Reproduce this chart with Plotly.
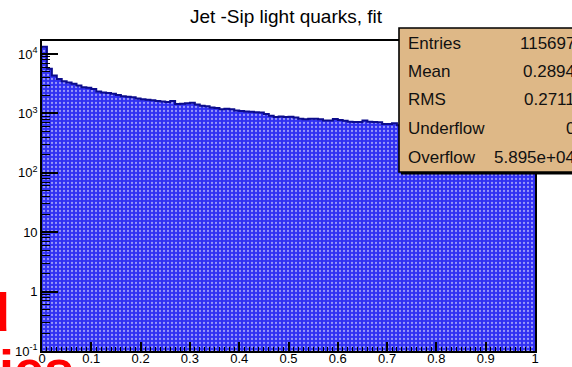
import numpy as np
import plotly.graph_objects as go

# ---- data ----
bin_lo = 0.0
bin_hi = 1.0
n_bins = 100
counts = [
    13200, 5620, 4365, 3802, 3467, 3311, 3162, 2951, 2754, 2692,
    2570, 2344, 2239, 2210, 2138, 2042, 1950, 1905, 1862, 1778,
    1738, 1698, 1660, 1622, 1585, 1549, 1622, 1445, 1460, 1479,
    1514, 1413, 1349, 1318, 1259, 1230, 1175, 1202, 1170, 1122,
    1096, 1072, 1065, 1047, 1040, 977, 912, 871, 891, 868,
    881, 851, 813, 794, 810, 813, 798, 759, 762, 804,
    776, 755, 724, 716, 718, 759, 724, 714, 712, 661,
    665, 684, 631, 625, 620, 612, 618, 605, 598, 600,
    590, 585, 588, 578, 570, 572, 565, 560, 555, 558,
    550, 545, 540, 542, 535, 530, 528, 522, 518, 515,
]
title = "Jet -Sip light quarks, fit"
stat_names = ["Entries", "Mean", "RMS", "Underflow", "Overflow"]
stat_values = ["115697", "0.2894", "0.2711", "0", "5.895e+04"]
x_tickvals = [0, 0.1, 0.2, 0.3, 0.4, 0.5, 0.6, 0.7, 0.8, 0.9, 1]
x_ticktext = ["0", "0.1", "0.2", "0.3", "0.4", "0.5", "0.6", "0.7", "0.8", "0.9", "1"]
y_tickvals = [0.1, 1, 10, 100, 1000, 10000]
y_ticktext = ["10<sup>-1</sup>", "1", "10", "10<sup>2</sup>", "10<sup>3</sup>", "10<sup>4</sup>"]

# ---- derived ----
width = (bin_hi - bin_lo) / n_bins
edges = bin_lo + width * np.arange(n_bins + 1)
centers = edges[:-1] + width / 2
minor_y = [m * 10.0 ** e for e in range(-1, 5) for m in range(2, 10)]

W, H = 572, 367
L, R, T, B = 42, 37, 41, 16
pw, ph = W - L - R, H - T - B


def px(x):
    return (x - L) / pw


def py(y):
    return (H - B - y) / ph


FONT = "Liberation Sans, Arial, Helvetica, sans-serif"

fig = go.Figure()
fig.add_trace(go.Bar(
    x=centers, y=counts, width=width,
    marker=dict(
        color="#3030f2",
        line=dict(width=0),
        pattern=dict(shape=".", fgcolor="white", bgcolor="#3030f2",
                     size=4, solidity=0.25),
    ),
    hoverinfo="skip", showlegend=False,
))
fig.add_trace(go.Scatter(
    x=list(edges[:-1]) + [edges[-1]],
    y=list(counts) + [counts[-1]],
    mode="lines", line=dict(shape="hv", color="#0c0c8c", width=2),
    hoverinfo="skip", showlegend=False,
))

shapes = [
    # stats box shadow and box
    dict(type="rect", xref="paper", yref="paper",
         x0=px(401), x1=1.3, y0=py(174.5), y1=py(30),
         fillcolor="black", line=dict(width=0), layer="above"),
    dict(type="rect", xref="paper", yref="paper",
         x0=px(399), x1=1.3, y0=py(172), y1=py(28),
         fillcolor="#DEB887", line=dict(color="black", width=1.6), layer="above"),
]

ann = []
row_y = [43, 71, 99, 128, 157]
for name, val, yy in zip(stat_names, stat_values, row_y):
    ann.append(dict(xref="paper", yref="paper", x=px(406), y=py(yy),
                    xanchor="left", yanchor="middle", showarrow=False,
                    text=name, font=dict(family=FONT, size=17, color="#111")))
    ann.append(dict(xref="paper", yref="paper", x=px(577), y=py(yy),
                    xanchor="right", yanchor="middle", showarrow=False,
                    text=val, font=dict(family=FONT, size=17, color="#111")))

# red text fragments at lower left
ann.append(dict(xref="paper", yref="paper", x=px(12), y=py(344),
                xanchor="right", yanchor="bottom", showarrow=False,
                text="<b>d</b>", font=dict(family=FONT, size=54, color="#ff0000")))
ann.append(dict(xref="paper", yref="paper", x=px(-3), y=py(337),
                xanchor="left", yanchor="top", showarrow=False,
                text="<b>ies</b>", font=dict(family=FONT, size=54, color="#ff0000")))

fig.update_layout(
    width=W, height=H,
    margin=dict(l=L, r=R, t=T, b=B, pad=0),
    paper_bgcolor="white", plot_bgcolor="white",
    bargap=0,
    title=dict(text=title, x=0.5, xref="container", xanchor="center",
               y=1 - 16 / H, yanchor="middle", yref="container",
               font=dict(family=FONT, size=19, color="black")),
    font=dict(family=FONT, color="black"),
    shapes=shapes, annotations=ann,
    xaxis=dict(range=[bin_lo, bin_hi], tickmode="array", tickvals=x_tickvals,
               ticktext=x_ticktext, ticks="inside", ticklen=9, tickwidth=1.5,
               tickcolor="black", showline=True, linecolor="black", linewidth=1.6,
               mirror=True, showgrid=False, zeroline=False, automargin=False,
               ticklabelstandoff=-5,
               tickfont=dict(family=FONT, size=13, color="black"),
               minor=dict(ticks="inside", ticklen=4, tickwidth=1.2,
                          tickcolor="black", dtick=0.01, showgrid=False)),
    yaxis=dict(type="log", range=[-1, 4.219], tickmode="array",
               tickvals=y_tickvals, ticktext=y_ticktext,
               ticks="inside", ticklen=16, tickwidth=1.5, tickcolor="black",
               showline=True, linecolor="black", linewidth=1.6, mirror=True,
               showgrid=False, zeroline=False, automargin=False,
               tickfont=dict(family=FONT, size=13, color="black"),
               minor=dict(ticks="inside", ticklen=8, tickwidth=1.2,
                          tickcolor="black", tickmode="array",
                          tickvals=minor_y, showgrid=False)),
)

fig.write_html("out.html")
